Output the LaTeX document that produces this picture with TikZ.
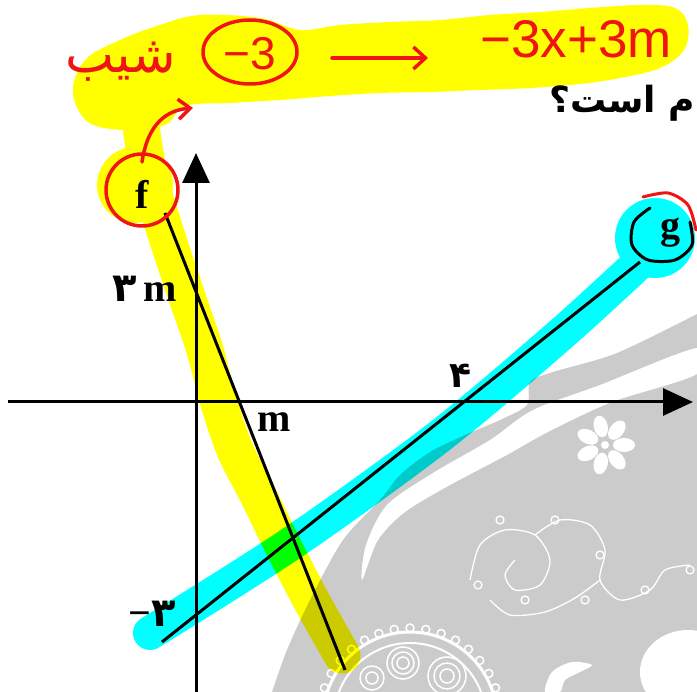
\documentclass[tikz,border=0pt]{standalone}
\usepackage{fontspec}
\setmainfont{Liberation Serif}
\newfontfamily\arabicfont[Script=Arabic]{DejaVu Sans}
\newfontfamily\handfont{Liberation Sans}
\TeXXeTstate=1
\usetikzlibrary{arrows.meta, positioning}

\definecolor{hlyellow}{RGB}{255,255,0}
\definecolor{hlcyan}{RGB}{0,255,255}
\definecolor{bggray}{RGB}{203,203,203}
\definecolor{penred}{RGB}{240,20,20}

\tikzset{
  axisline/.style={line width=3, -{Triangle[length=30,width=27]}},
  graphline/.style={line width=3},
  lbl/.style={font=\fontsize{40}{40}\selectfont\bfseries, inner sep=0},
  farsi/.style={font=\fontsize{36}{36}\selectfont\arabicfont\bfseries, inner sep=0},
  penline/.style={penred, line width=3.5, line cap=round, line join=round},
  pentext/.style={penred, inner sep=0},
  hlstroke/.style={line width=#1, line cap=round, line join=round},
  orn/.style={white, line width=1.3},
}

\begin{document}
\begin{tikzpicture}[x=1pt, y=-1pt]
\useasboundingbox (0,0) rectangle (697,692);

% background print
\fill[bggray] plot[smooth] coordinates {(697,314) (617,353) (553,372) (530,382) (527,405) (500,420) (465,435) (430,452) (400,475) (380,500) (343,540) (310,600) (287,650) (272,692)} -- (697,692) -- cycle;
\fill[white] plot[smooth cycle] coordinates {(697,348) (600,385) (533,410) (490,440) (433,473) (387,505) (366,545) (362,580) (378,540) (405,512) (450,485) (505,456) (548,432) (612,402) (697,374)};
\foreach \a in {0,51.43,...,359} \fill[white, shift={(605,445)}, rotate=\a] (19,0) ellipse [x radius=11, y radius=7];
\fill[bggray] (605,445) circle[radius=7];
\fill[white] (605,445) circle[radius=4];
\draw[orn] plot[smooth] coordinates {(470,580) (480,545) (505,530) (535,535) (550,560) (540,585) (515,590) (505,575) (515,560)};
\draw[orn] plot[smooth] coordinates {(535,535) (560,520) (590,525) (605,550) (600,580) (620,600) (650,590) (665,570) (690,565)};
\draw[orn] plot[smooth] coordinates {(490,600) (510,615) (545,612) (575,598) (600,580)};
\foreach \p in {(478,585),(500,520),(555,520),(600,555),(645,590),(690,570),(525,600),(585,600)} \draw[orn] \p circle[radius=4];
\fill[white] (688,672) ellipse [x radius=48, y radius=42];
\fill[white] plot[smooth cycle] coordinates {(545,692) (552,672) (572,662) (592,665) (580,672) (565,680) (560,692)};
\draw[white, line width=3] (410,719) circle[radius=87];
\foreach \a in {190,200,...,350} \draw[white, line width=1.5] (410,719) ++(\a:91) circle[radius=4];
\draw[white, line width=2] (410,719) circle[radius=76];
\foreach \r in {6,11,16} \draw[white, line width=1.5] (403,663) circle[radius=\r];
\foreach \r in {7,13,19} \draw[white, line width=1.5] (447,676) circle[radius=\r];
\foreach \r in {6,12} \draw[white, line width=1.5] (372,678) circle[radius=\r];

% highlighter
\begin{scope}[blend mode=multiply]
\fill[hlyellow] plot[smooth cycle, tension=0.6] coordinates {(73,92) (85,60) (120,40) (160,25) (200,15) (260,18) (300,30) (340,25) (390,22) (440,20) (490,15) (540,12) (590,8) (640,5) (675,8) (688,25) (684,50) (660,68) (620,78) (580,84) (530,88) (480,90) (430,92) (380,93) (330,96) (280,100) (230,103) (185,106) (165,125) (125,130) (88,122)};
\draw[hlyellow, hlstroke=37] plot[smooth] coordinates {(140,120) (150,180) (168,240) (188,300) (205,350) (218,400) (235,450) (258,495) (280,540) (311,600) (342,655)};
\fill[hlyellow] (135,185) circle[radius=38];
\draw[hlcyan, hlstroke=34] plot[smooth] coordinates {(150,633) (292,543) (440,436) (560,335) (640,262)};
\fill[hlcyan] (655,238) circle[radius=40];
\end{scope}

% axes
\coordinate (xl) at (8,402);
\coordinate (xr) at (693,402);
\coordinate (yb) at (196,692);
\coordinate (yt) at (196,153);
\draw[axisline] (xl) -- (xr);
\draw[axisline] (yb) -- (yt);

% lines f and g
\coordinate (f1) at (165,213);
\coordinate (f2) at (345,670);
\coordinate (g1) at (162,642);
\coordinate (g2) at (640,262);
\draw[graphline] (f1) -- (f2);
\draw[graphline] (g1) -- (g2);

\node[lbl] (flbl) at (142,194) {f};
\node[lbl] (glbl) at (670,233) {g};
\node[lbl, anchor=base east] (ylbl) at (177,302) {{\arabicfont ۳}\,m};
\node[lbl, anchor=base west] (xlbl) at (257,432) {m};
\node[farsi, anchor=base] (xfour) at (460,388) {۴};
\node[lbl, anchor=base east] (yneg) at (176,627) {−{\arabicfont ۳}};
\node[farsi, anchor=base east] (qtext) at (695,113) {\beginR م است؟\endR};

% pen marks
\node[pentext, font=\fontsize{52}{52}\selectfont\arabicfont] (slope) at (121,62) {\beginR شیب\endR};
\node[pentext, font=\fontsize{46}{46}\selectfont\handfont] (mthree) at (250,54) {−3};
\draw[penline] (mthree.center) ++(0,-2) ellipse [x radius=47, y radius=32];
\coordinate (arrA) at (332,58);
\coordinate (arrB) at (428,58);
\draw[penline, -{Straight Barb[length=12,width=22]}] (arrA) -- (arrB);
\node[pentext, font=\fontsize{53}{53}\selectfont\handfont, anchor=base west] (expr) at (480,58) {−3x+3m};
\draw[penline] (flbl.center) ++(0,-4) circle[radius=36];
\coordinate (ftip) at (193,108);
\draw[penline, -{Straight Barb[length=12,width=20]}] ([yshift=32pt]flbl.center) .. controls (148,122) and (168,110) .. (ftip);
\draw[line width=3, line cap=round] plot[smooth] coordinates {(650,208) (634,222) (632,245) (648,260) (675,260) (692,245) (690,222)};
\draw[penline, line width=3] plot[smooth] coordinates {(643,197) (668,193) (688,205) (696,230)};
\end{tikzpicture}
\end{document}
